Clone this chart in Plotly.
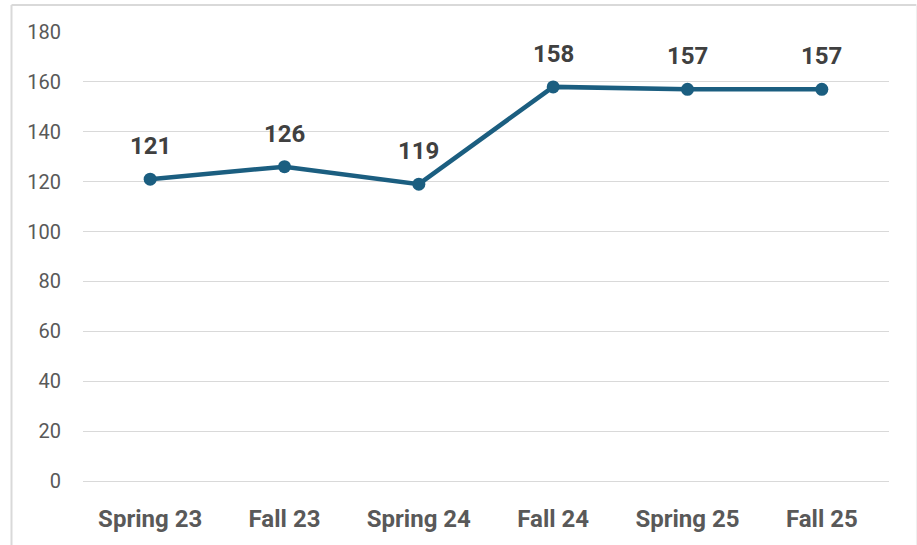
import plotly.graph_objects as go

categories = ["Spring 23", "Fall 23", "Spring 24", "Fall 24", "Spring 25", "Fall 25"]
values = [121, 126, 119, 158, 157, 157]
y_ticks = [0, 20, 40, 60, 80, 100, 120, 140, 160, 180]

line_color = "#1B5E80"
font_family = "Roboto, Open Sans, sans-serif"

fig = go.Figure()
fig.add_trace(go.Scatter(
    x=categories, y=values, mode="lines+markers",
    line=dict(color=line_color, width=4.5),
    marker=dict(color=line_color, size=13),
    hoverinfo="skip", showlegend=False,
))

annotations = [
    dict(x=c, y=v, xref="x", yref="y", text=f"<b>{v}</b>", showarrow=False,
         yshift=33, font=dict(size=24, color="#404040", family=font_family))
    for c, v in zip(categories, values)
]

fig.update_layout(
    width=917, height=545,
    margin=dict(l=83, r=28, t=32, b=64),
    paper_bgcolor="white", plot_bgcolor="white",
    font=dict(family=font_family, color="#595959"),
    annotations=annotations,
    shapes=[
        dict(type="line", xref="paper", yref="paper", x0=-0.0887, x1=1.034, y0=1.06, y1=1.06,
             line=dict(color="#D9D9D9", width=2)),
        dict(type="line", xref="paper", yref="paper", x0=-0.0887, x1=-0.0887, y0=1.06, y1=-0.2,
             line=dict(color="#D9D9D9", width=2)),
        dict(type="line", xref="paper", yref="paper", x0=1.034, x1=1.034, y0=1.06, y1=-0.2,
             line=dict(color="#EEEEEE", width=1)),
    ],
    xaxis=dict(
        type="category", range=[-0.5, 5.5], showgrid=False, showline=True,
        linecolor="#D9D9D9", linewidth=1, ticks="", zeroline=False,
        tickfont=dict(size=24, color="#595959", family=font_family, weight="bold"),
        ticklabelstandoff=16,
    ),
    yaxis=dict(
        range=[0, 180], tickvals=y_ticks, showgrid=True, gridcolor="#D9D9D9",
        gridwidth=1, zeroline=False, showline=False, ticks="",
        tickfont=dict(size=20, color="#595959", family=font_family),
        ticklabelstandoff=21,
    ),
)

fig.write_html(
    "out.html",
    config={"displayModeBar": False},
    post_script="document.body.style.margin='0';document.body.style.overflow='hidden';",
)
